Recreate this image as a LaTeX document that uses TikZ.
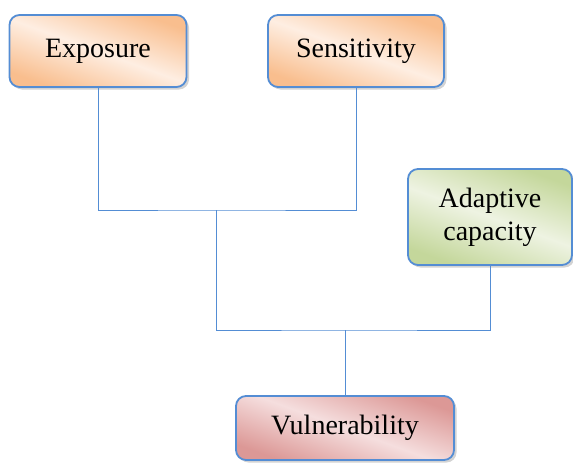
\documentclass[tikz,border=0pt]{standalone}
\usepackage{fontspec}
\setmainfont{Liberation Serif}
\usepackage{tikz}
\usetikzlibrary{shadows}
\definecolor{edgeblue}{RGB}{84,141,212}
\definecolor{peachdark}{RGB}{249,190,142}
\definecolor{peachlight}{RGB}{254,238,226}
\definecolor{greendark}{RGB}{196,215,155}
\definecolor{greenlight}{RGB}{238,243,226}
\definecolor{pinkdark}{RGB}{220,152,150}
\definecolor{pinklight}{RGB}{245,222,222}

\begin{document}
\begin{tikzpicture}
[x=1pt,y=-1pt]
\tikzset{
	box/.style = {rectangle, rounded corners=10pt, draw=edgeblue, line width=1.8pt, inner sep=0,
		align=center, font=\fontsize{28}{33}\selectfont,
		drop shadow={shadow xshift=2.5pt, shadow yshift=-2.5pt, opacity=0.35}},
	factor/.style = {box, top color=peachdark, bottom color=peachdark, middle color=peachlight, shading angle=-20},
	capacity/.style = {box, top color=greendark, bottom color=greendark, middle color=greenlight, shading angle=-20},
	outcome/.style = {box, top color=pinkdark, bottom color=pinkdark, middle color=pinklight, shading angle=-20},
	link/.style = {draw=edgeblue, line width=1pt}
}
\useasboundingbox (0,0) rectangle (573,464);

\node(expo) [factor, minimum width=177pt, minimum height=72pt] at (98,51) {Exposure};
\node(sens) [factor, minimum width=176pt, minimum height=72pt] at (356,51) {Sensitivity};
\node(adapt) [capacity, minimum width=164pt, minimum height=96pt] at (490,217) {Adaptive\\capacity};
\node(vuln) [outcome, minimum width=218pt, minimum height=64pt] at (345,428) {Vulnerability};

\coordinate (j1) at (216,210);
\coordinate (j2) at (345,330);

\draw [link] (expo.south) |- (j1) -| (sens.south);
\draw [link] (j1) |- (j2) -| (adapt.south);
\draw [link] (j2) -- (vuln.north);
\end{tikzpicture}
\end{document}
